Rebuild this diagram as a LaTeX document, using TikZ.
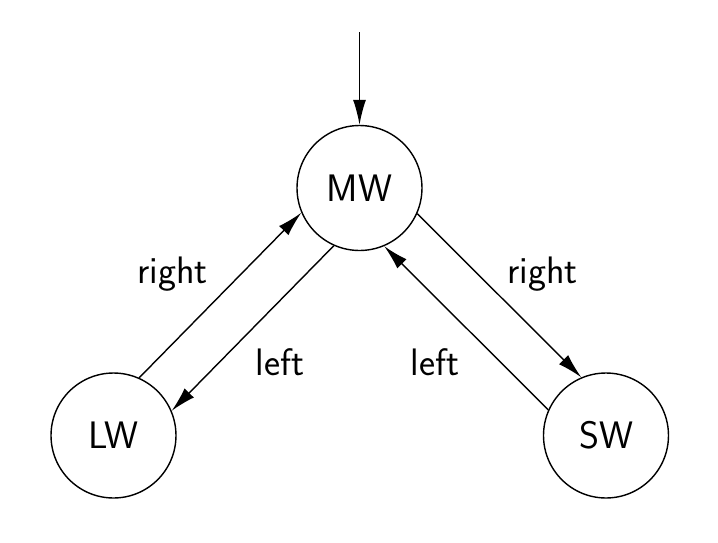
\documentclass[tikz,border=0pt]{standalone}
\usepackage{tikz}
\usetikzlibrary{arrows.meta}
\tikzset{
         state/.style={shape=circle,draw=black,line width=.8pt,minimum size=2.5cm,inner sep=0pt},
         trans/.style={line width=.8pt,-{Latex[length=5mm,width=2.6mm]}},
         lab/.style={anchor=base,inner sep=0pt}
        }

\begin{document}
\begin{tikzpicture}[x=.02cm,y=-.02cm,font=\sffamily\fontsize{21.8}{26}\selectfont]
      \useasboundingbox(0,0)rectangle(718,542);
      \node[state] (MW) at (359.5,188){MW}; %middle
      \node[state] (LW) at (113.5,435.5){LW}; %left
      \node[state] (SW) at (606,435.5){SW}; %right
      \coordinate (start) at (359.5,32); %initial
      \draw[trans](start)--(MW);
      \draw[trans](LW.66.8)--(MW.203.6);
      \draw[trans](MW.246.8)--(LW.23.6);
      \draw[trans](MW.336.4)--(SW.113.2);
      \draw[trans](SW.156.4)--(MW.293.2);
      %labels
      \node[lab] (rightL) at (172.5,283){right};
      \node[lab] (leftL) at (280,375){left};
      \node[lab] (leftR) at (435,375){left};
      \node[lab] (rightR) at (542.5,283){right};
    \end{tikzpicture}
\end{document}
